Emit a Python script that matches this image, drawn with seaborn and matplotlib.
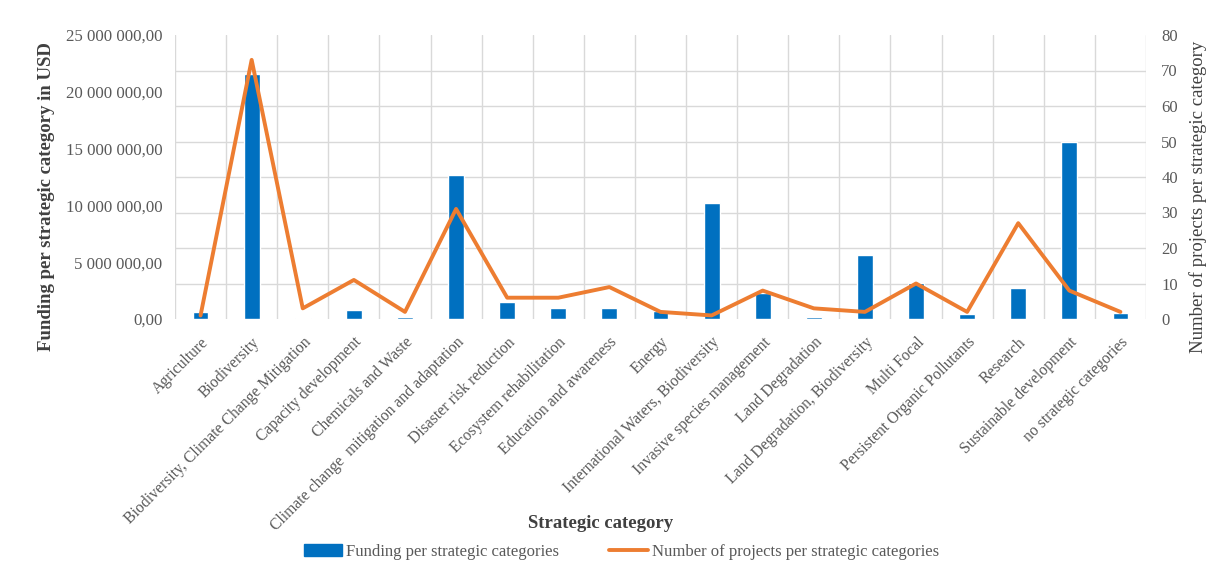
import matplotlib
matplotlib.use('Agg')
import matplotlib.pyplot as plt
import matplotlib.ticker as mticker
from matplotlib.patches import Patch
from matplotlib.lines import Line2D
import seaborn as sns
import numpy as np
import pandas as pd

# Data
categories = [
    'Agriculture', 'Biodiversity', 'Biodiversity, Climate Change Mitigation',
    'Capacity development', 'Chemicals and Waste',
    'Climate change  mitigation and adaptation', 'Disaster risk reduction',
    'Ecosystem rehabilitation', 'Education and awareness', 'Energy',
    'International Waters, Biodiversity', 'Invasive species management',
    'Land Degradation', 'Land Degradation, Biodiversity', 'Multi Focal',
    'Persistent Organic Pollutants', 'Research', 'Sustainable development',
    'no strategic categories',
]
funding = [600000, 21600000, 50000, 800000, 200000, 12700000, 1470000,
           940000, 940000, 700000, 10200000, 2260000, 150000, 5600000,
           3140000, 440000, 2700000, 15600000, 500000]
projects = [1, 73, 3, 11, 2, 31, 6, 6, 9, 2, 1, 8, 3, 2, 10, 2, 27, 8, 2]

df = pd.DataFrame({'category': categories, 'funding': funding, 'projects': projects})
df['pos'] = np.arange(len(df))

blue = '#0070C0'
orange = '#ED7D31'
grey = '#595959'

sns.set_style('white')
plt.rcParams['font.family'] = ['Liberation Serif', 'DejaVu Serif']

fig, ax1 = plt.subplots(figsize=(12.23, 5.74), dpi=100)
fig.subplots_adjust(left=175 / 1223, right=1146 / 1223, top=1 - 35 / 574, bottom=1 - 319 / 574)

sns.barplot(data=df, x='category', y='funding', color=blue, width=0.31,
            saturation=1, ax=ax1, zorder=3)
ax1.set_xlim(-0.5, len(df) - 0.5)
ax1.set_ylim(0, 25e6)
ax1.set_yticks(np.arange(0, 25e6 + 1, 5e6))
ax1.yaxis.set_major_formatter(mticker.FuncFormatter(
    lambda v, p: f'{v:,.2f}'.replace(',', ' ').replace('.', ',')))

# light grid: horizontal lines follow the right axis steps, vertical lines split categories
ax1.set_yticks(np.linspace(0, 25e6, 9), minor=True)
ax1.set_xticks(np.arange(-0.5, len(df), 1), minor=True)
ax1.grid(which='minor', color='#D9D9D9', linewidth=1)
ax1.grid(which='major', visible=False)
ax1.set_axisbelow(True)
ax1.tick_params(which='both', length=0)
ax1.tick_params(axis='y', labelsize=12.2, labelcolor=grey, pad=9)
ax1.set_xticks(df['pos'])
ax1.set_xticklabels(categories, rotation=45, ha='right', rotation_mode='anchor',
                    fontsize=11.3, color=grey)
ax1.tick_params(axis='x', pad=11)
ax1.set_xlabel('Strategic category', fontsize=13.5, fontweight='bold', color='#404040')
ax1.xaxis.set_label_coords(0.438, -0.69)
ax1.set_ylabel('Funding per strategic category in USD', fontsize=13.5, fontweight='bold',
               color='#404040')
ax1.yaxis.set_label_coords(-0.1236, 0.43)
for s in ax1.spines.values():
    s.set_visible(False)

ax2 = ax1.twinx()
sns.lineplot(data=df, x='pos', y='projects', color=orange, linewidth=2.8, sort=False,
             ax=ax2, zorder=4)
ax2.set_ylim(0, 80)
ax2.set_yticks(np.arange(0, 81, 10))
ax2.tick_params(length=0, labelsize=12, labelcolor=grey, pad=11)
ax2.set_ylabel('Number of projects per strategic category', fontsize=13.5, color='#404040')
ax2.yaxis.set_label_coords(1.0443, 0.43)
ax2.grid(False)
for s in ax2.spines.values():
    s.set_visible(False)

handles = [Patch(color=blue), Line2D([0], [0], color=orange, linewidth=2.8)]
fig.legend(handles, ['Funding per strategic categories', 'Number of projects per strategic categories'],
           loc='center', bbox_to_anchor=(0.508, 1 - 552 / 574), ncol=2, frameon=False,
           fontsize=12, handlelength=2.3, handletextpad=0.25, columnspacing=3.0,
           labelcolor=grey)

fig.savefig('out.png', dpi=100)
